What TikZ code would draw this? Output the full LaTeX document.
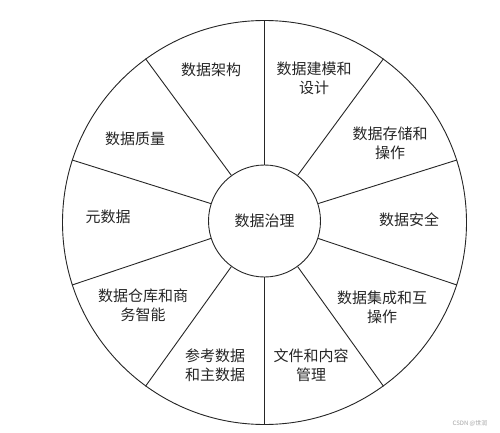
\documentclass[tikz,border=0pt]{standalone}
\usepackage{fontspec}
\setmainfont{Noto Sans CJK SC}
\newfontfamily\cjk{Noto Sans CJK SC}
\begin{document}
\begin{tikzpicture}[x=1pt,y=-1pt,
  ring/.style={circle,draw=black!85,line width=0.9pt,inner sep=0pt},
  spoke/.style={draw=black!85,line width=0.9pt},
  lbl/.style={font=\cjk\fontsize{15}{19}\selectfont,text=black!85,align=center,inner sep=0pt}]
\useasboundingbox (0,0) rectangle (500,433);
\fill[white] (0,0) rectangle (500,433);
\node[ring,minimum size=404pt] (outer) at (264.5,222.5) {};
\node[ring,minimum size=112pt,fill=white] (core) at (264.5,221) {};
\node[lbl] at (core.center) {数据治理};
\foreach \a in {18,54,90,126,162,198,234,270,306,342}
  \draw[spoke] (core.\a) -- (outer.\a);
\node[lbl] (s1) at (211,70) {数据架构};
\node[lbl] (s2) at (314,78) {数据建模和\\设计};
\node[lbl] (s3) at (390,143) {数据存储和\\操作};
\node[lbl] (s4) at (409,220) {数据安全};
\node[lbl] (s5) at (382,307) {数据集成和互\\操作};
\node[lbl] (s6) at (311,365) {文件和内容\\管理};
\node[lbl] (s7) at (215,365) {参考数据\\和主数据};
\node[lbl] (s8) at (143,305) {数据仓库和商\\务智能};
\node[lbl] (s9) at (108,217) {元数据};
\node[lbl] (s10) at (135,139) {数据质量};
\node[font=\cjk\fontsize{6}{7}\selectfont,text=black!35,inner sep=0pt] (wm) at (470,423) {CSDN @世润};
\end{tikzpicture}
\end{document}
